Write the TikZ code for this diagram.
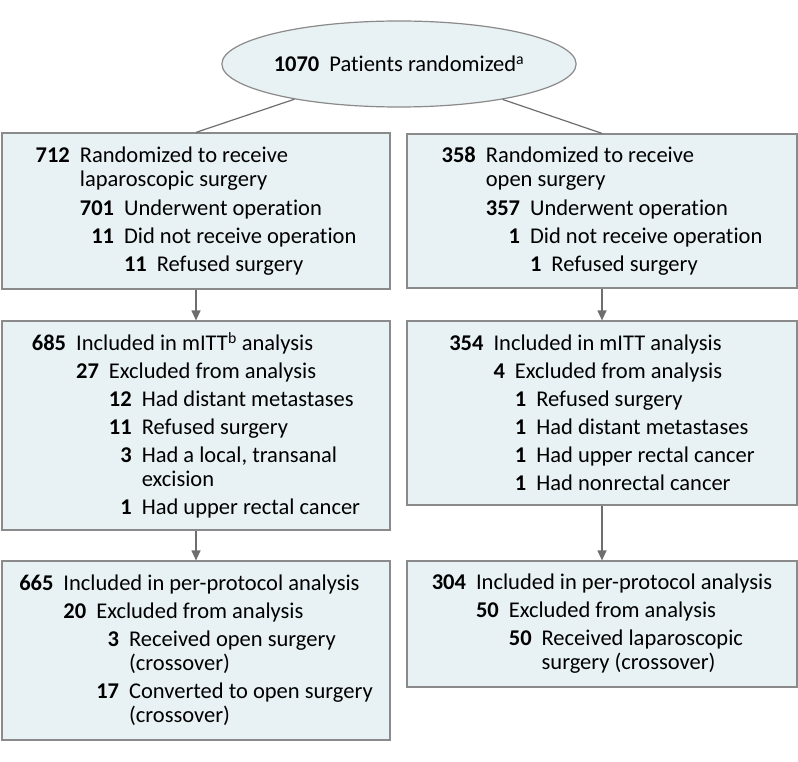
\documentclass[tikz,border=0pt]{standalone}
\usepackage{fontspec}
\setmainfont{Carlito}[Ligatures=NoCommon]
\usetikzlibrary{arrows.meta,shapes.geometric}
\definecolor{boxfill}{HTML}{E8F1F4}
\definecolor{boxline}{HTML}{8A8A8A}
\definecolor{linkline}{HTML}{6E6E6E}
\newlength{\numgap}\setlength{\numgap}{10pt}
% one indentation step: width of a number column plus the gap
\newcommand{\fstep}[1]{\hphantom{\bfseries #1}\hspace{\numgap}}
% indent, widest number of the level, number, text
\newcommand{\fentry}[4]{#1\hphantom{\bfseries #2}\llap{\bfseries #3}\hspace{\numgap}#4}
\tikzset{
  flowfont/.style={font=\fontsize{22.5}{24}\selectfont},
  flowbox/.style={draw=boxline, fill=boxfill, line width=1.2pt, rectangle, align=left, inner sep=0pt, flowfont},
  link/.style={draw=linkline, line width=1.2pt},
  arrowlink/.style={link, -{Triangle[width=9pt,length=10pt]}}
}
\begin{document}
\begin{tikzpicture}[x=1pt,y=-1pt]
  \useasboundingbox (0,0) rectangle (798,762);
  \node[ellipse, draw=boxline, fill=boxfill, line width=1.2pt, minimum width=338pt, minimum height=86pt, inner sep=0pt, flowfont] (rand) at (399,64)
    {\textbf{1070}\hspace{\numgap}Patients randomized\textsuperscript{a}};
  % first row
  \node[flowbox, minimum width=388pt, minimum height=156pt] (lap) at (196,211) {%
    \fentry{}{000}{712}{Randomized to receive}\\
    \fstep{000}laparoscopic surgery\\[5pt]
    \fentry{\fstep{000}}{000}{701}{Underwent operation}\\[4pt]
    \fentry{\fstep{000}}{000}{11}{Did not receive operation}\\[4pt]
    \fentry{\fstep{000}\fstep{000}}{00}{11}{Refused surgery}};
  \node[flowbox, minimum width=390pt, minimum height=154pt] (open) at (602,211) {%
    \fentry{}{000}{358}{Randomized to receive}\\
    \fstep{000}open surgery\\[5pt]
    \fentry{\fstep{000}}{000}{357}{Underwent operation}\\[4pt]
    \fentry{\fstep{000}}{000}{1}{Did not receive operation}\\[4pt]
    \fentry{\fstep{000}\fstep{000}}{0}{1}{Refused surgery}};
  % second row
  \node[flowbox, minimum width=388pt, minimum height=209pt] (lapmitt) at (196,425.5) {%
    \fentry{}{000}{685}{Included in mITT\textsuperscript{b} analysis}\\[4pt]
    \fentry{\fstep{000}}{00}{27}{Excluded from analysis}\\[4pt]
    \fentry{\fstep{000}\fstep{00}}{00}{12}{Had distant metastases}\\[4pt]
    \fentry{\fstep{000}\fstep{00}}{00}{11}{Refused surgery}\\[4pt]
    \fentry{\fstep{000}\fstep{00}}{00}{3}{Had a local, transanal}\\
    \fstep{000}\fstep{00}\fstep{00}excision\\[4pt]
    \fentry{\fstep{000}\fstep{00}}{00}{1}{Had upper rectal cancer}};
  \node[flowbox, minimum width=390pt, minimum height=184pt] (openmitt) at (602,413) {%
    \fentry{}{000}{354}{Included in mITT analysis}\\[4pt]
    \fentry{\fstep{000}}{0}{4}{Excluded from analysis}\\[4pt]
    \fentry{\fstep{000}\fstep{0}}{0}{1}{Refused surgery}\\[4pt]
    \fentry{\fstep{000}\fstep{0}}{0}{1}{Had distant metastases}\\[4pt]
    \fentry{\fstep{000}\fstep{0}}{0}{1}{Had upper rectal cancer}\\[4pt]
    \fentry{\fstep{000}\fstep{0}}{0}{1}{Had nonrectal cancer}};
  % third row
  \node[flowbox, minimum width=388pt, minimum height=179pt] (lappp) at (196,650.5) {%
    \fentry{}{000}{665}{Included in per-protocol analysis}\\[4pt]
    \fentry{\fstep{000}}{00}{20}{Excluded from analysis}\\[4pt]
    \fentry{\fstep{000}\fstep{00}}{00}{3}{Received open surgery}\\
    \fstep{000}\fstep{00}\fstep{00}(crossover)\\[4pt]
    \fentry{\fstep{000}\fstep{00}}{00}{17}{Converted to open surgery}\\
    \fstep{000}\fstep{00}\fstep{00}(crossover)};
  \node[flowbox, minimum width=390pt, minimum height=126pt] (openpp) at (602,624) {%
    \fentry{}{000}{304}{Included in per-protocol analysis}\\[4pt]
    \fentry{\fstep{000}}{00}{50}{Excluded from analysis}\\[4pt]
    \fentry{\fstep{000}\fstep{00}}{00}{50}{Received laparoscopic}\\
    \fstep{000}\fstep{00}\fstep{00}surgery (crossover)};
  % connectors
  \draw[link] (rand) -- (lap.north);
  \draw[link] (rand) -- (open.north);
  \foreach \a/\b in {lap/lapmitt,lapmitt/lappp,open/openmitt,openmitt/openpp} \draw[arrowlink] (\a) -- (\b);
\end{tikzpicture}
\end{document}
